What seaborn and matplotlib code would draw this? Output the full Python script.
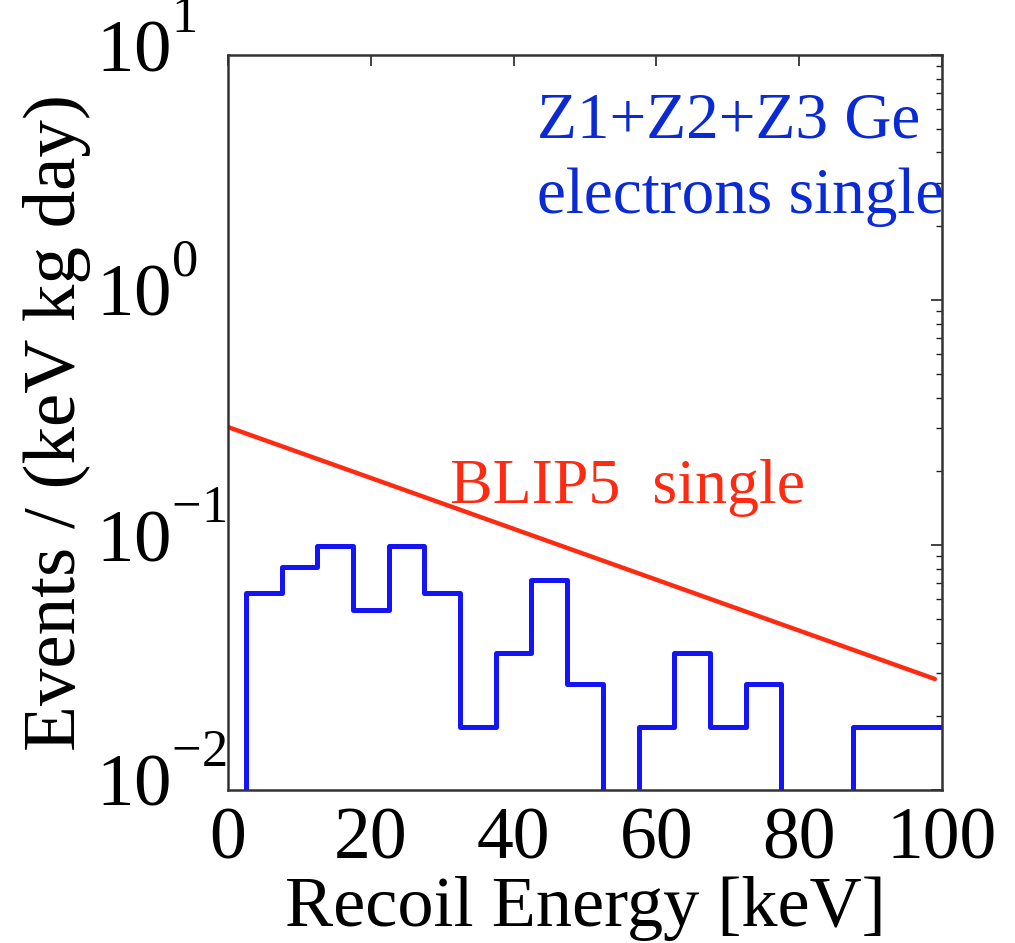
import numpy as np
import pandas as pd
import matplotlib
matplotlib.use("Agg")
import matplotlib.pyplot as plt
import matplotlib.transforms as mtransforms
import seaborn as sns
from matplotlib.ticker import LogLocator, FixedLocator
try:
    import matplotlib._mathtext as _mt
    _mt.FontConstantsBase.supdrop = 0.05
    _mt.FontConstantsBase.sup1 = 1.15
    _mt.FontConstantsBase.script_space = 0.0
except Exception:
    pass

# ---- data ----
bin_edges = [2.5, 7.5, 12.5, 17.5, 22.5, 27.5, 32.5, 37.5, 42.5, 47.5, 52.5,
             57.5, 62.5, 67.5, 72.5, 77.5, 82.5, 87.5, 92.5, 97.5, 102.5]
electron_rate = [0.0636, 0.0813, 0.0995, 0.0543, 0.0995, 0.0636, 0.0181, 0.0362,
                 0.0720, 0.0271, 0.0, 0.0181, 0.0362, 0.0181, 0.0271, 0.0, 0.0,
                 0.0181, 0.0181, 0.0181]
blip_energy = [0.0, 99.0]
blip_rate = [0.303, 0.0284]
x_ticks = [0, 20, 40, 60, 80, 100]

SERIF = ["Liberation Serif", "DejaVu Serif"]
sns.set_theme(style="white")
plt.rcParams["font.family"] = SERIF
plt.rcParams["mathtext.fontset"] = "custom"
plt.rcParams["mathtext.rm"] = "Liberation Serif"
plt.rcParams["mathtext.it"] = "Liberation Serif:italic"
plt.rcParams["mathtext.bf"] = "Liberation Serif:bold"
plt.rcParams["text.color"] = "black"
plt.rcParams["axes.labelcolor"] = "black"

fig = plt.figure(figsize=(10.15, 9.43), dpi=100)
ax = fig.add_axes([0.2246, 0.1622, 0.7035, 0.7795])

# step histogram as a line through the bin edges
xs = [bin_edges[0]] + bin_edges
ys = [0.0] + electron_rate + [electron_rate[-1]]
hist_df = pd.DataFrame({"x": xs, "y": ys})
ax.set_yscale("log", nonpositive="clip")
sns.lineplot(data=hist_df, x="x", y="y", ax=ax, estimator=None, sort=False,
             color="#1414f5", linewidth=3.6, drawstyle="steps-post")

blip_df = pd.DataFrame({"x": blip_energy, "y": blip_rate})
sns.lineplot(data=blip_df, x="x", y="y", ax=ax, estimator=None, sort=False,
             color="#ff2a12", linewidth=3.2)

ax.set_xlim(0, 100)
ax.set_ylim(1e-2, 1e1)
ax.xaxis.set_major_locator(FixedLocator(x_ticks))
ax.yaxis.set_major_locator(LogLocator(base=10, numticks=10))
ax.yaxis.set_minor_locator(LogLocator(base=10, subs=np.arange(2, 10), numticks=10))

ax.tick_params(axis="both", which="both", direction="in", top=True, right=True,
               colors="#222222", labelcolor="black")
ax.tick_params(axis="both", which="major", length=8, width=1.2)
ax.tick_params(axis="x", which="major", pad=12, labelsize=53)
ax.tick_params(axis="y", which="major", pad=95, labelsize=54)
ax.tick_params(axis="y", which="minor", length=4, width=1.0)
for s in ax.spines.values():
    s.set_color("#333333")
    s.set_linewidth(1.8)

ax.set_xlabel("Recoil Energy [keV]", fontsize=52, family=SERIF, color="black")
ax.xaxis.label.set_va("baseline")
ax.xaxis.set_label_coords(0.5, -0.185)
ax.set_ylabel("Events / (keV kg day)", fontsize=54, family=SERIF, color="black")
ax.yaxis.label.set_va("baseline")
ax.yaxis.set_label_coords(-0.214, 0.5)

ax.text(0.433, 0.888, "Z1+Z2+Z3 Ge", transform=ax.transAxes,
        color="#0a2ad6", fontsize=47, ha="left", va="baseline", family=SERIF)
ax.text(0.433, 0.785, "electrons single", transform=ax.transAxes,
        color="#0a2ad6", fontsize=47, ha="left", va="baseline", family=SERIF)
ax.text(0.311, 0.391, "BLIP5  single", transform=ax.transAxes,
        color="#ff2a12", fontsize=46, ha="left", va="baseline", family=SERIF)

fig.canvas.draw()
shift = mtransforms.ScaledTranslation(0, 0.08, fig.dpi_scale_trans)
for tick in ax.yaxis.get_major_ticks():
    lab = tick.label1
    lab.set_horizontalalignment("left")
    lab.set_verticalalignment("center")
    lab.set_transform(lab.get_transform() + shift)

fig.savefig("out.png", dpi=100, facecolor="white")
